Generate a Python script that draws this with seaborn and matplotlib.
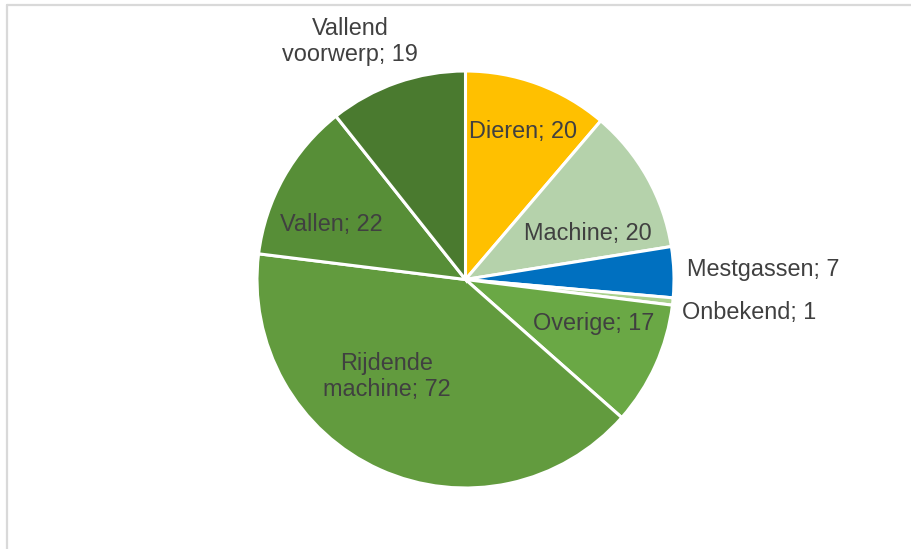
import matplotlib
matplotlib.use("Agg")
import matplotlib.pyplot as plt
import seaborn as sns
import numpy as np
from matplotlib.lines import Line2D

categories = ["Dieren", "Machine", "Mestgassen", "Onbekend", "Overige",
              "Rijdende\nmachine", "Vallen", "Vallend\nvoorwerp"]
values = [20, 20, 7, 1, 17, 72, 22, 19]
colors = ["#FFC000", "#B5D2AB", "#0070C0", "#A9D18E", "#6AA845",
          "#629B3E", "#578E37", "#4A7A2F"]

# label positions in pie (data) units, relative to radius 1
label_pos = [(0.276, 0.712, "center"), (0.588, 0.223, "center"),
             (1.062, 0.050, "left"), (1.040, -0.156, "left"),
             (0.614, -0.209, "center"), (-0.378, -0.465, "center"),
             (-0.643, 0.266, "center"), (-0.554, 1.141, "center")]

sns.set_theme(style="white")
plt.rcParams["font.family"] = ["Liberation Sans", "DejaVu Sans"]

W, H = 912, 549
fig = plt.figure(figsize=(W / 100, H / 100), dpi=100)
cx, cy, r = 465.5, 279.5, 208.5
ax = fig.add_axes([(cx - r) / W, (H - cy - r) / H, 2 * r / W, 2 * r / H])

palette = sns.color_palette(colors)
wedges, _ = ax.pie(values, colors=palette, startangle=90, counterclock=False,
                   radius=1, wedgeprops=dict(edgecolor="white", linewidth=2.2))
ax.set_xlim(-1, 1)
ax.set_ylim(-1, 1)
ax.set_aspect("equal")
ax.axis("off")

for cat, val, (x, y, ha) in zip(categories, values, label_pos):
    ax.text(x, y, f"{cat}; {val}", ha=ha, va="center", fontsize=16.9,
            color="#404040", linespacing=1.18, clip_on=False)

# light grey frame of the chart area
fc = "#D9D9D9"
fig.add_artist(Line2D([7 / W, 7 / W], [0, 1 - 5 / H], color=fc, linewidth=1.6,
                      transform=fig.transFigure))
fig.add_artist(Line2D([7 / W, 1], [1 - 5 / H, 1 - 5 / H], color=fc, linewidth=1.6,
                      transform=fig.transFigure))

fig.savefig("out.png", dpi=100, facecolor="white")
